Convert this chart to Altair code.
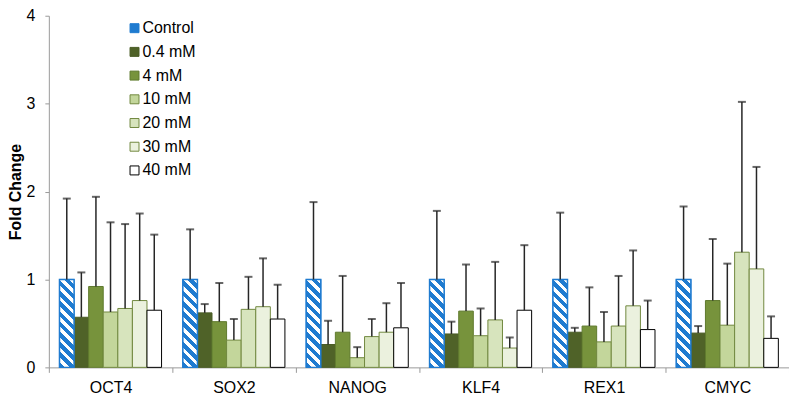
import altair as alt
import pandas as pd

genes = ["OCT4", "SOX2", "NANOG", "KLF4", "REX1", "CMYC"]
doses = ["Control", "0.4 mM", "4 mM", "10 mM", "20 mM", "30 mM", "40 mM"]

# mean fold change per dose (in gene order)
control_mean = [1.00, 1.00, 1.00, 1.00, 1.00, 1.00]
mm04_mean = [0.57, 0.62, 0.26, 0.38, 0.40, 0.39]
mm4_mean = [0.92, 0.52, 0.40, 0.64, 0.47, 0.76]
mm10_mean = [0.63, 0.31, 0.11, 0.36, 0.29, 0.48]
mm20_mean = [0.67, 0.66, 0.35, 0.54, 0.47, 1.31]
mm30_mean = [0.76, 0.69, 0.40, 0.22, 0.70, 1.12]
mm40_mean = [0.65, 0.55, 0.45, 0.65, 0.43, 0.33]

# upper error (SD) per dose
control_err = [0.92, 0.57, 0.88, 0.78, 0.76, 0.83]
mm04_err = [0.51, 0.10, 0.27, 0.14, 0.05, 0.08]
mm4_err = [1.02, 0.44, 0.64, 0.53, 0.44, 0.70]
mm10_err = [1.02, 0.24, 0.12, 0.31, 0.34, 0.70]
mm20_err = [0.96, 0.37, 0.20, 0.66, 0.57, 1.71]
mm30_err = [0.99, 0.55, 0.33, 0.12, 0.63, 1.16]
mm40_err = [0.86, 0.39, 0.51, 0.74, 0.33, 0.25]

means = [control_mean, mm04_mean, mm4_mean, mm10_mean, mm20_mean, mm30_mean, mm40_mean]
errs = [control_err, mm04_err, mm4_err, mm10_err, mm20_err, mm30_err, mm40_err]

rows = []
for d, m, e in zip(doses, means, errs):
    for g, mv, ev in zip(genes, m, e):
        rows.append({"gene": g, "dose": d, "mean": mv, "top": round(mv + ev, 3)})
df = pd.DataFrame(rows)

fills = ["#1f7bd0", "#4f6228", "#77933c", "#c3d69b", "#d7e4bd", "#ebf1de", "#ffffff"]
strokes = ["#1f7bd0", "#4a5c26", "#5f7a2e", "#71893f", "#71893f", "#71893f", "#000000"]

FONT = "Liberation Sans"
W, H = 743, 353
PAD_OUTER = 0.73
BLUE = "#1f7bd0"

# hatched gradient for control bars (stripes at 45 degrees)
step = W / len(genes)
bar_w = step / (len(doses) + 2 * PAD_OUTER)
bar_h = H / 4.0
a = bar_w / bar_h
k = (a + 1) / (a * a + 1)
periods = 10
stops = []
for i in range(periods):
    o0 = i / periods
    o1 = (i + 0.55) / periods
    o2 = (i + 1) / periods
    stops += [
        {"offset": o0, "color": BLUE},
        {"offset": o1, "color": BLUE},
        {"offset": o1, "color": "#ffffff"},
        {"offset": o2, "color": "#ffffff"},
    ]
hatch = {"gradient": "linear", "x1": 0, "y1": 1, "x2": a * k, "y2": 1 - k, "stops": stops}

x = alt.X(
    "gene:N",
    sort=genes,
    scale=alt.Scale(paddingInner=0, paddingOuter=0),
    axis=alt.Axis(
        title=None, labelAngle=0, tickBand="extent", tickSize=5, tickColor="#9a9a9a",
        domainColor="#9a9a9a", labelFont=FONT, labelFontSize=16, labelColor="#000000",
        labelPadding=7,
    ),
)
xo = alt.XOffset("dose:N", sort=doses, scale=alt.Scale(domain=doses, paddingInner=0, paddingOuter=PAD_OUTER))
y = alt.Y(
    "mean:Q",
    scale=alt.Scale(domain=[0, 4], nice=False),
    axis=alt.Axis(
        title="Fold Change", values=[0, 1, 2, 3, 4], format="d", grid=False, tickSize=4,
        tickColor="#9a9a9a", domainColor="#9a9a9a", labelFont=FONT, labelFontSize=16,
        labelColor="#000000", labelPadding=10, titleFont=FONT, titleFontSize=16,
        titleFontWeight="bold", titleColor="#000000", titlePadding=3,
    ),
)

leg = alt.Legend(
    title=None, orient="none", legendX=78, legendY=4.5, padding=0, symbolType="square",
    symbolSize=81, symbolStrokeWidth=1, labelFont=FONT, labelFontSize=16,
    labelColor="#000000", rowPadding=7.8, labelOffset=0,
)

bars = alt.Chart(df).mark_bar(strokeWidth=1).encode(
    x=x, xOffset=xo, y=y,
    fill=alt.Fill("dose:N", sort=doses, scale=alt.Scale(domain=doses, range=fills), legend=leg),
    stroke=alt.Stroke("dose:N", sort=doses, scale=alt.Scale(domain=doses, range=strokes), legend=leg),
)

ctrl = alt.Chart(df).transform_filter("datum.dose === 'Control'").mark_bar(
    fill=hatch, stroke=BLUE, strokeWidth=1.5
).encode(x=x, xOffset=xo, y=y)

rules = alt.Chart(df).mark_rule(color="#262626", strokeWidth=1.5).encode(
    x=x, xOffset=xo, y=y, y2="top:Q"
)
caps = alt.Chart(df).mark_tick(color="#262626", thickness=2, size=8).encode(
    x=x, xOffset=xo, y=alt.Y("top:Q")
)

chart = alt.layer(bars, ctrl, rules, caps).properties(
    width=W, height=H,
    autosize=alt.AutoSizeParams(type="none"),
    padding={"left": 41, "top": 7, "right": 0, "bottom": 32},
).configure_view(stroke=None)

chart.save("out.html", embed_options={"renderer": "svg", "actions": False})
